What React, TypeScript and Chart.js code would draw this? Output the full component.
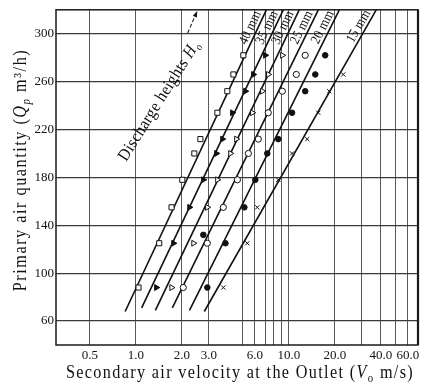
import React, { useEffect, useRef } from "react";
import { Chart, registerables } from "chart.js";

Chart.register(...registerables);

const FAMILY = '"Liberation Serif", "Times New Roman", serif';

// Discharge heights H0 (one line and one marker set for each)
const seriesLabels = ["40 mm", "35 mm", "30 mm", "25 mm", "20 mm", "15 mm"];

// Measured points: secondary air velocity V0 (m/s) vs primary air quantity Qp (m3/h)
const v40 = [1.04, 1.42, 1.71, 2.01, 2.41, 2.64, 3.41, 3.96, 4.34, 5.04];
const q40 = [88, 125, 155, 178, 200, 212, 234, 252, 266, 282];
const v35 = [1.36, 1.76, 2.24, 2.76, 3.36, 3.68, 4.27, 5.2, 5.86, 7.02];
const q35 = [88, 125, 155, 178, 200, 212, 234, 252, 266, 282];
const v30 = [1.71, 2.38, 2.93, 3.41, 4.15, 4.54, 5.77, 6.71, 7.34, 9.07];
const q30 = [88, 125, 155, 178, 200, 212, 234, 252, 266, 282];
const v25 = [2.04, 2.93, 3.73, 4.61, 5.44, 6.32, 7.34, 9.07, 11.2, 12.8];
const q25 = [88, 125, 155, 178, 200, 212, 234, 252, 266, 282];
const v20 = [2.93, 3.85, 2.76, 5.12, 6.04, 7.23, 8.54, 10.5, 12.8, 14.9, 17.3];
const q20 = [88, 125, 132, 155, 178, 200, 212, 234, 252, 266, 282];
const v15 = [3.73, 5.35, 6.22, 8.54, 10.5, 13.2, 15.6, 18.4, 22.7];
const q15 = [88, 125, 155, 178, 200, 212, 234, 252, 266];

// Fitted straight lines (lower end and upper end)
const fitVLow = [0.85, 1.09, 1.34, 1.73, 2.24, 2.8];
const fitQLow = [68, 71, 69, 71, 69, 68];
const fitVHigh = [7.13, 9.2, 11.7, 15.6, 21.4, 37.3];
const fitQHigh = [320, 320, 320, 320, 320, 320];

// Axes
const xGridValues = [0.5, 1, 2, 3, 5, 6, 7, 8, 9, 10, 20, 30, 40, 50, 60];
const xTickValues = [0.5, 1, 2, 3, 6, 10, 20, 40, 60];
const xTickLabels = ["0.5", "1.0", "2.0", "3.0", "6.0", "10.0", "20.0", "40.0", "60.0"];
const yTickValues = [60, 100, 140, 180, 220, 260, 300];

const seriesV = [v40, v35, v30, v25, v20, v15];
const seriesQ = [q40, q35, q30, q25, q20, q15];

const markerStyles = [
  { pointStyle: "rect", bg: "#ffffff", radius: 3.6, rotation: 0 },
  { pointStyle: "triangle", bg: "#111111", radius: 3.4, rotation: 90 },
  { pointStyle: "triangle", bg: "#ffffff", radius: 3.4, rotation: 90 },
  { pointStyle: "circle", bg: "#ffffff", radius: 3.1, rotation: 0 },
  { pointStyle: "circle", bg: "#111111", radius: 2.8, rotation: 0 },
  { pointStyle: "crossRot", bg: "#111111", radius: 3, rotation: 0 },
];

type Seg = { t: string; italic?: boolean; sub?: boolean };

function drawRich(
  ctx: CanvasRenderingContext2D,
  segs: Seg[],
  cx: number,
  cy: number,
  angle: number,
  size: number,
  sx: number,
  spacing: number
): number {
  ctx.save();
  ctx.translate(cx, cy);
  ctx.rotate(angle);
  ctx.scale(sx, 1);
  (ctx as any).letterSpacing = spacing + "px";
  const fontOf = (s: Seg) =>
    `${s.italic ? "italic " : ""}${s.sub ? Math.round(size * 0.65) : size}px ${FAMILY}`;
  let total = 0;
  const widths = segs.map((s) => {
    ctx.font = fontOf(s);
    const w = ctx.measureText(s.t).width;
    total += w;
    return w;
  });
  let x = -total / 2;
  ctx.textAlign = "left";
  ctx.textBaseline = "alphabetic";
  ctx.fillStyle = "#111";
  segs.forEach((s, i) => {
    ctx.font = fontOf(s);
    ctx.fillText(s.t, x, s.sub ? size * 0.55 : size * 0.34);
    x += widths[i];
  });
  ctx.restore();
  return total * sx;
}

const annotations = {
  id: "annotations",
  afterDraw(chart: any) {
    const { ctx, chartArea: ca } = chart;
    const xs = chart.scales.x;
    const ys = chart.scales.y;
    ctx.save();
    // frame
    ctx.strokeStyle = "#1a1a1a";
    ctx.lineWidth = 1.5;
    ctx.strokeRect(ca.left, ca.top, ca.right - ca.left, ca.bottom - ca.top);
    ctx.lineWidth = 2.2;
    ctx.beginPath();
    ctx.moveTo(ca.right, ca.top);
    ctx.lineTo(ca.right, ca.bottom);
    ctx.stroke();

    // line labels near the upper ends
    for (let i = 0; i < seriesLabels.length; i++) {
      const x0 = xs.getPixelForValue(fitVLow[i]);
      const y0 = ys.getPixelForValue(fitQLow[i]);
      const x1 = xs.getPixelForValue(fitVHigh[i]);
      const y1 = ys.getPixelForValue(fitQHigh[i]);
      const len = Math.hypot(x1 - x0, y1 - y0);
      const ux = (x1 - x0) / len;
      const uy = (y1 - y0) / len;
      const ang = Math.atan2(y1 - y0, x1 - x0);
      const along = 23;
      const perp = 8;
      const cx = x1 - ux * along + uy * perp;
      const cy = y1 - uy * along - ux * perp;
      drawRich(ctx, [{ t: seriesLabels[i] }], cx, cy, ang, 14, 0.88, 0.2);
    }

    // "Discharge heights H0" with arrow
    const dAng = (-57.8 * Math.PI) / 180;
    const dcx = xs.getPixelForValue(1.4);
    const dcy = ys.getPixelForValue(244.5);
    const w = drawRich(
      ctx,
      [{ t: "Discharge heights " }, { t: "H", italic: true }, { t: "o", sub: true }],
      dcx,
      dcy,
      dAng,
      17,
      0.9,
      0.5
    );
    ctx.save();
    ctx.translate(dcx, dcy);
    ctx.rotate(dAng - 0.15);
    ctx.strokeStyle = "#111";
    ctx.fillStyle = "#111";
    ctx.lineWidth = 1;
    ctx.setLineDash([4, 2]);
    const a0 = w / 2 + 4;
    const a1 = w / 2 + 28;
    ctx.beginPath();
    ctx.moveTo(a0, 0);
    ctx.lineTo(a1 - 4, 0);
    ctx.stroke();
    ctx.setLineDash([]);
    ctx.beginPath();
    ctx.moveTo(a1, 0);
    ctx.lineTo(a1 - 6, -2.2);
    ctx.lineTo(a1 - 6, 2.2);
    ctx.closePath();
    ctx.fill();
    ctx.restore();

    // axis titles
    drawRich(
      ctx,
      [
        { t: "Secondary air velocity at the Outlet (" },
        { t: "V", italic: true },
        { t: "o", sub: true },
        { t: " m/s)" },
      ],
      (ca.left + ca.right) / 2 + 3,
      372,
      0,
      18,
      0.9,
      1.5
    );
    drawRich(
      ctx,
      [
        { t: "Primary air quantity (" },
        { t: "Q", italic: true },
        { t: "p", sub: true, italic: true },
        { t: " m³/h)" },
      ],
      20,
      170,
      -Math.PI / 2,
      18,
      0.9,
      1.7
    );
    ctx.restore();
  },
};

export default function App() {
  const ref = useRef<HTMLCanvasElement>(null);

  useEffect(() => {
    const pointSets = seriesLabels.map((label, i) => ({
      label: label + " data",
      data: seriesV[i].map((v, k) => ({ x: v, y: seriesQ[i][k] })),
      showLine: false,
      order: 1,
      pointStyle: markerStyles[i].pointStyle as any,
      pointRadius: markerStyles[i].radius,
      pointRotation: markerStyles[i].rotation,
      pointBackgroundColor: markerStyles[i].bg,
      pointBorderColor: "#111",
      pointBorderWidth: 1,
    }));
    const lineSets = seriesLabels.map((label, i) => ({
      label: label + " line",
      data: [
        { x: fitVLow[i], y: fitQLow[i] },
        { x: fitVHigh[i], y: fitQHigh[i] },
      ],
      showLine: true,
      order: 2,
      pointRadius: 0,
      borderColor: "#111",
      borderWidth: 1.6,
    }));

    const chart = new Chart(ref.current as HTMLCanvasElement, {
      type: "scatter",
      data: { datasets: [...pointSets, ...lineSets] as any },
      options: {
        responsive: false,
        animation: false,
        layout: { padding: { left: 0, right: 8, top: 8, bottom: 0 } },
        plugins: { legend: { display: false }, tooltip: { enabled: false } },
        scales: {
          x: {
            type: "logarithmic",
            min: 0.3,
            max: 70,
            afterBuildTicks: (s: any) => {
              s.ticks = xGridValues.map((v) => ({ value: v }));
            },
            afterFit: (s: any) => {
              s.height = 42;
            },
            ticks: {
              autoSkip: false,
              maxRotation: 0,
              minRotation: 0,
              padding: 3,
              color: "#111",
              font: { family: FAMILY, size: 13 },
              callback: (v: any) => {
                const i = xTickValues.indexOf(Number(v));
                return i >= 0 ? xTickLabels[i] : "";
              },
            },
            grid: { color: "#5a5a5a", lineWidth: 1, drawTicks: false },
            border: { display: false },
          },
          y: {
            type: "linear",
            min: 40,
            max: 320,
            afterBuildTicks: (s: any) => {
              s.ticks = yTickValues.map((v) => ({ value: v }));
            },
            afterFit: (s: any) => {
              s.width = 56;
            },
            ticks: {
              padding: 2,
              color: "#111",
              font: { family: FAMILY, size: 13 },
              callback: (v: any) => String(v),
            },
            grid: { color: "#3a3a3a", lineWidth: 1.2, drawTicks: false },
            border: { display: false },
          },
        },
      },
      plugins: [annotations],
    });
    return () => chart.destroy();
  }, []);

  return (
    <div
      style={{
        position: "fixed",
        left: 0,
        top: 0,
        width: 426,
        height: 387,
        background: "#ffffff",
      }}
    >
      <canvas ref={ref} width={426} height={387} style={{ display: "block" }} />
    </div>
  );
}
